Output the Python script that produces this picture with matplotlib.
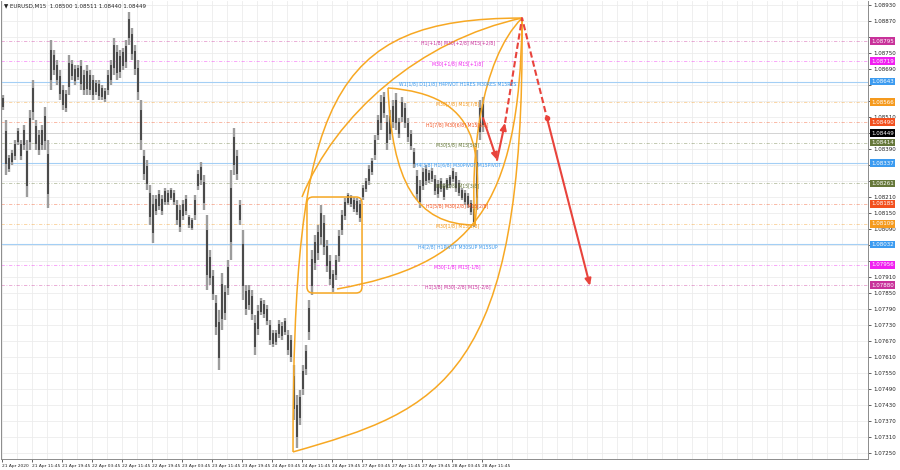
import numpy as np
import matplotlib
matplotlib.use("Agg")
import matplotlib.pyplot as plt
from matplotlib.path import Path
from matplotlib.patches import PathPatch, FancyBboxPatch
import matplotlib.transforms as mtransforms

# ---------------- data ----------------
header_text = "\u25BC EURUSD,M15  1.08500 1.08511 1.08440 1.08449"
bar_step = 3.2          # M15 bars between sampled price bars
first_bar = -2.1

highs = [1.08611, 1.08593, 1.08499, 1.08368, 1.08386, 1.08424, 1.08469, 1.08424, 1.08480, 1.08424,
         1.08536, 1.08649, 1.08499, 1.08461, 1.08480, 1.08548, 1.08424, 1.08799, 1.08761, 1.08724,
         1.08686, 1.08630, 1.08611, 1.08742, 1.08724, 1.08705, 1.08705, 1.08724, 1.08686, 1.08705,
         1.08686, 1.08668, 1.08649, 1.08649, 1.08630, 1.08619, 1.08686, 1.08724, 1.08806, 1.08780,
         1.08761, 1.08769, 1.08799, 1.08904, 1.08844, 1.08780, 1.08724, 1.08574, 1.08386, 1.08349,
         1.08255, 1.08218, 1.08218, 1.08236, 1.08218, 1.08244, 1.08236, 1.08244, 1.08236, 1.08199,
         1.08180, 1.08199, 1.08218, 1.08143, 1.08131, 1.08218, 1.08311, 1.08341, 1.08293, 1.08143,
         1.08011, 1.07936, 1.07843, 1.07786, 1.07925, 1.07880, 1.07974, 1.08311, 1.08469, 1.08386,
         1.08199, 1.08086, 1.07880, 1.07880, 1.07861, 1.07768, 1.07805, 1.07831, 1.07824, 1.07805,
         1.07749, 1.07711, 1.07711, 1.07749, 1.07741, 1.07756, 1.07711, 1.07693, 1.07580, 1.07468,
         1.07486, 1.07580, 1.07655, 1.07824, 1.08011, 1.08068, 1.08105, 1.08180, 1.08143, 1.08049,
         1.07993, 1.07936, 1.07993, 1.08086, 1.08161, 1.08206, 1.08225, 1.08218, 1.08210, 1.08206,
         1.08199, 1.08255, 1.08281, 1.08330, 1.08356, 1.08443, 1.08518, 1.08593, 1.08604, 1.08518,
         1.08536, 1.08574, 1.08600, 1.08506, 1.08585, 1.08563, 1.08506, 1.08461, 1.08394, 1.08311,
         1.08274, 1.08319, 1.08330, 1.08311, 1.08319, 1.08293, 1.08274, 1.08281, 1.08263, 1.08281,
         1.08293, 1.08319, 1.08304, 1.08274, 1.08244, 1.08236, 1.08225, 1.08199, 1.08180, 1.08386,
         1.08574, 1.08585]
lows = [1.08555, 1.08536, 1.08293, 1.08304, 1.08330, 1.08349, 1.08405, 1.08349, 1.08386, 1.08210,
        1.08386, 1.08499, 1.08386, 1.08368, 1.08386, 1.08386, 1.08169, 1.08611, 1.08668, 1.08630,
        1.08574, 1.08536, 1.08529, 1.08593, 1.08649, 1.08630, 1.08649, 1.08611, 1.08593, 1.08593,
        1.08593, 1.08574, 1.08593, 1.08574, 1.08574, 1.08566, 1.08593, 1.08630, 1.08668, 1.08649,
        1.08656, 1.08686, 1.08694, 1.08780, 1.08724, 1.08668, 1.08574, 1.08386, 1.08274, 1.08236,
        1.08105, 1.08038, 1.08143, 1.08161, 1.08143, 1.08180, 1.08180, 1.08199, 1.08180, 1.08105,
        1.08079, 1.08124, 1.08143, 1.08094, 1.08086, 1.08124, 1.08236, 1.08255, 1.08161, 1.07861,
        1.07880, 1.07824, 1.07693, 1.07561, 1.07711, 1.07749, 1.07843, 1.07974, 1.08293, 1.08274,
        1.08105, 1.07824, 1.07768, 1.07786, 1.07749, 1.07618, 1.07693, 1.07768, 1.07756, 1.07730,
        1.07655, 1.07648, 1.07655, 1.07681, 1.07674, 1.07693, 1.07618, 1.07591, 1.07374, 1.07269,
        1.07355, 1.07468, 1.07543, 1.07674, 1.07843, 1.07936, 1.07974, 1.08030, 1.07993, 1.07929,
        1.07880, 1.07854, 1.07899, 1.07966, 1.08068, 1.08124, 1.08180, 1.08173, 1.08154, 1.08143,
        1.08116, 1.08199, 1.08229, 1.08255, 1.08293, 1.08349, 1.08424, 1.08461, 1.08506, 1.08386,
        1.08424, 1.08469, 1.08461, 1.08431, 1.08491, 1.08469, 1.08416, 1.08386, 1.08319, 1.08199,
        1.08169, 1.08236, 1.08255, 1.08263, 1.08266, 1.08218, 1.08206, 1.08229, 1.08199, 1.08236,
        1.08244, 1.08266, 1.08229, 1.08214, 1.08199, 1.08180, 1.08169, 1.08143, 1.08098, 1.08161,
        1.08424, 1.08454]
last_price = 1.08449

time_labels = ["21 Apr 2020", "21 Apr 11:45", "21 Apr 19:45", "22 Apr 03:45", "22 Apr 11:45",
               "22 Apr 19:45", "23 Apr 03:45", "23 Apr 11:45", "23 Apr 19:45", "24 Apr 03:45",
               "24 Apr 11:45", "24 Apr 19:45", "27 Apr 03:45", "27 Apr 11:45", "27 Apr 19:45",
               "28 Apr 03:45", "28 Apr 11:45"]
bars_per_label = 32

price_ticks = [1.08930, 1.08870, 1.08810, 1.08750, 1.08690, 1.08630, 1.08570, 1.08510, 1.08450,
               1.08390, 1.08330, 1.08270, 1.08210, 1.08150, 1.08090, 1.08030, 1.07970, 1.07910,
               1.07850, 1.07790, 1.07730, 1.07670, 1.07610, 1.07550, 1.07490, 1.07430, 1.07370,
               1.07310, 1.07250]

level_prices = [1.08795, 1.08719, 1.08643, 1.08566, 1.08490, 1.08414, 1.08337,
                1.08261, 1.08185, 1.08109, 1.08032, 1.07956, 1.07880]
level_texts = ["H1[+1/8] M30[+2/8] M15[+2/8]", "M30[+1/8] M15[+1/8]",
               "W1[1/8] D1[1/8] H4PIVOT H1RES M30RES M15RES", "M30[7/8] M15[7/8]",
               "H1[7/8] M30[6/8] M15[6/8]", "M30[5/8] M15[5/8]",
               "H4[3/8] H1[6/8] M30PIVOT M15PIVOT", "M30[3/8] M15[3/8]",
               "H1[5/8] M30[2/8] M15[2/8]", "M30[1/8] M15[1/8]",
               "H4[2/8] H1PIVOT M30SUP M15SUP", "M30[-1/8] M15[-1/8]",
               "H1[3/8] M30[-2/8] M15[-2/8]"]
level_colors = ["#C8329A", "#F020F0", "#3C9BF0", "#F59A1E", "#F2501E", "#66783A", "#3C9BF0",
                "#66783A", "#F2501E", "#F59A1E", "#3C9BF0", "#F020F0", "#C8329A"]
level_text_bar = 486

# analysis overlay anchors (bar index, price)
apex = (554.7, 1.08881)
swing_low = (310.4, 1.07254)
leaf_top = (411.7, 1.08619)
leaf_bottom = (504.5, 1.08105)
box_bars = (325.3, 384.0)
box_prices = (1.07850, 1.08210)

arc_paths = [
    [swing_low, (310.4, 1.08574), (349.9, 1.08881), apex],
    [(320.0, 1.08210), (355.2, 1.08518), (445.9, 1.08799), apex],
    [(357.3, 1.07865), (499.2, 1.07955), (552.5, 1.08161), apex],
    [swing_low, (467.2, 1.07411), (557.9, 1.07524), apex],
    [leaf_top, (509.9, 1.08593), (512.0, 1.08386), leaf_bottom],
    [leaf_top, (416.0, 1.08274), (440.5, 1.08105), leaf_bottom],
    [apex, (509.9, 1.08724), (499.2, 1.08349), leaf_bottom],
]

red_path_bars = [513.1, 528.0, 536.5, 554.7, 581.3, 627.2]
red_path_prices = [1.08506, 1.08349, 1.08488, 1.08881, 1.08506, 1.07877]

# ---------------- figure ----------------
W, H = 900, 470
fig = plt.figure(figsize=(W / 100, H / 100), dpi=100)
fig.patch.set_facecolor("white")
ax = fig.add_axes([1 / W, 11 / H, 867 / W, 458 / H])
ax.set_facecolor("white")

ax.set_xlim(-1.07, 923.7)
ax.set_ylim(1.072275, 1.08945)

# grid
for b in np.arange(0, 930, 16):
    ax.axvline(b, color="#ececec", lw=0.6, zorder=0)
for p in price_ticks:
    ax.axhline(p, color="#ececec", lw=0.6, zorder=0)

# level lines
for p, c in zip(level_prices, level_colors):
    if c == "#3C9BF0":
        ax.axhline(p, color="#a4cff5", lw=0.8, zorder=1)
    else:
        ax.axhline(p, color=c, lw=0.6, alpha=0.45, ls=(0, (4, 2, 1, 2)), zorder=1)
ax.axhline(last_price, color="#cfcfcf", lw=0.6, zorder=1)

# price bars
xs = first_bar + bar_step * np.arange(len(highs))
hi = np.array(highs)
lo = np.array(lows)
ax.vlines(xs, lo, hi, color="#9c9c9c", lw=1.7, zorder=2)
ax.vlines(xs, lo + 0.2 * (hi - lo), hi - 0.2 * (hi - lo), color="#333333", lw=1.1, zorder=3)

# level texts
dy = 0.00008
for p, t, c in zip(level_prices, level_texts, level_colors):
    ax.text(level_text_bar, p - dy, t, color=c, fontsize=3.3, ha="center", va="center", zorder=6)

# orange arcs
orange = "#F7A823"
codes = [Path.MOVETO, Path.CURVE4, Path.CURVE4, Path.CURVE4]
for pts in arc_paths:
    ax.add_patch(PathPatch(Path(pts, codes), fill=False, edgecolor=orange, lw=1.1, zorder=4))

# rounded box
ax.add_patch(FancyBboxPatch((box_bars[0], box_prices[0]), box_bars[1] - box_bars[0],
                            box_prices[1] - box_prices[0],
                            boxstyle="round,pad=0,rounding_size=6.4",
                            mutation_aspect=0.000225 / 6.4,
                            fill=False, edgecolor=orange, lw=1.1, zorder=4))

# red projection
red = "#E8433C"
arrow_kw = dict(arrowstyle="-|>,head_length=0.4,head_width=0.18", color=red, lw=1.5,
                shrinkA=0, shrinkB=0)
for i in (0, 1, 4):
    ax.annotate("", xy=(red_path_bars[i + 1], red_path_prices[i + 1]),
                xytext=(red_path_bars[i], red_path_prices[i]), arrowprops=arrow_kw, zorder=5)
ax.plot(red_path_bars[2:5], red_path_prices[2:5], color=red, lw=1.5, ls=(0, (3, 1.5)), zorder=5)
ax.plot([red_path_bars[4]], [red_path_prices[4]], "o", color=red, ms=3, zorder=5)

# axes styling
for s in ax.spines.values():
    s.set_color("#8c8c8c")
    s.set_linewidth(0.7)
ax.spines["top"].set_visible(False)

tag_prices = level_prices + [last_price]
ax.yaxis.tick_right()
ax.set_yticks(price_ticks)
ax.set_yticklabels(["" if min(abs(p - q) for q in tag_prices) < 0.00016 else f"{p:.5f}"
                    for p in price_ticks])
ax.tick_params(axis="y", length=2, pad=2, labelsize=4.0, colors="#222222", width=0.5)

tick_bars = [i * bars_per_label for i in range(len(time_labels))]
ax.set_xticks(tick_bars)
ax.set_xticklabels(time_labels)
ax.tick_params(axis="x", length=2, pad=1.5, labelsize=3.2, colors="#222222", width=0.5)
for lab in ax.get_xticklabels():
    lab.set_ha("left")

# coloured price tags on the scale
trans = mtransforms.blended_transform_factory(ax.transAxes, ax.transData)
for p, c in zip(level_prices, level_colors):
    ax.text(1.0035, p, f"{p:.5f}", transform=trans, fontsize=4.0, color="white", ha="left",
            va="center", zorder=10, clip_on=False,
            bbox=dict(boxstyle="square,pad=0.25", fc=c, ec="none"))
ax.text(1.0035, last_price, f"{last_price:.5f}", transform=trans, fontsize=4.0, color="white",
        ha="left", va="center", zorder=10, clip_on=False,
        bbox=dict(boxstyle="square,pad=0.25", fc="black", ec="none"))

fig.text(4 / W, 1 - 6 / H, header_text, fontsize=4.0, color="#222222", ha="left", va="center")

fig.savefig("out.png", dpi=100)
